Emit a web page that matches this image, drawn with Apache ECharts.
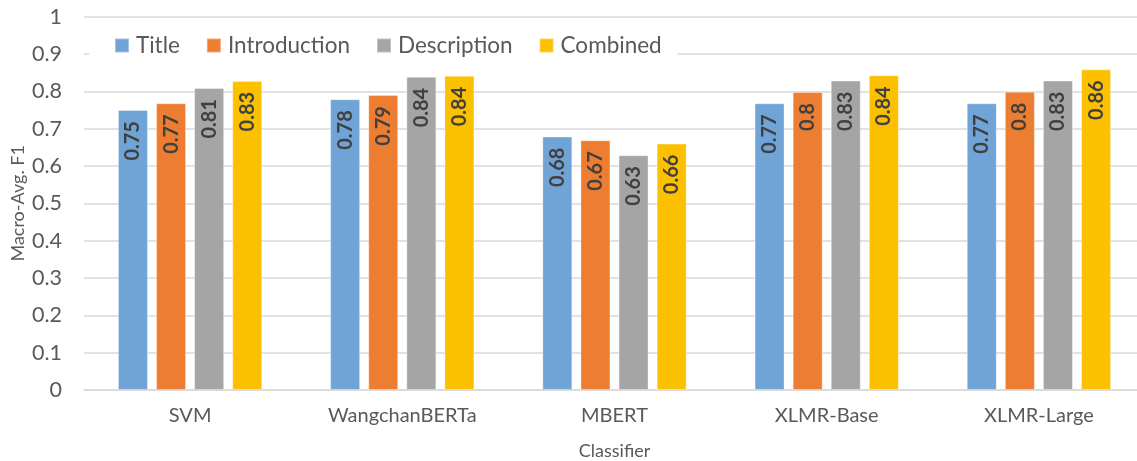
<!DOCTYPE html>
<html>
<head>
<meta charset="utf-8">
<script src="https://cdn.jsdelivr.net/npm/echarts@6/dist/echarts.min.js"></script>
<style>
  html, body { margin: 0; padding: 0; background: #fff; }
  #chart { width: 1137px; height: 461px; }
</style>
</head>
<body>
<div id="chart"></div>
<script>
const classifiers = ['SVM', 'WangchanBERTa', 'MBERT', 'XLMR-Base', 'XLMR-Large'];
const title = [0.750, 0.779, 0.679, 0.768, 0.768];
const introduction = [0.768, 0.790, 0.669, 0.798, 0.799];
const description = [0.809, 0.839, 0.629, 0.829, 0.829];
const combined = [0.828, 0.842, 0.660, 0.843, 0.859];
const yTicks = [0, 0.1, 0.2, 0.3, 0.4, 0.5, 0.6, 0.7, 0.8, 0.9, 1];

const FONT = 'Lato, "Open Sans", sans-serif';

const chart = echarts.init(document.getElementById('chart'));

function makeSeries(name, data, color) {
  return {
    name,
    type: 'bar',
    data,
    barWidth: 30,
    barGap: '27%',
    itemStyle: { color, borderColor: 'rgba(255,255,255,0.35)', borderWidth: 1 },
    label: {
      show: true,
      position: 'insideTop',
      rotate: 90,
      align: 'right',
      verticalAlign: 'middle',
      distance: 11,
      color: '#404040',
      fontWeight: 'bold',
      fontSize: 20,
      fontFamily: FONT,
      formatter: (p) => String(parseFloat(p.value.toFixed(2))),
    },
  };
}

chart.setOption({
  animation: false,
  textStyle: { fontFamily: FONT },
  grid: {
    left: 84,
    top: 16.7,
    width: 1061,
    height: 373.3,
    outerBoundsMode: 'none',
  },
  legend: {
    left: 89,
    top: 29,
    padding: [5, 16, 5, 25],
    backgroundColor: '#fff',
    itemWidth: 14,
    itemHeight: 14,
    itemGap: 26,
    icon: 'rect',
    textStyle: { fontSize: 22.5, color: '#595959', fontFamily: FONT, padding: [0, 0, 0, 2] },
    data: ['Title', 'Introduction', 'Description', 'Combined'],
  },
  xAxis: {
    type: 'category',
    data: classifiers,
    name: 'Classifier',
    nameLocation: 'middle',
    nameGap: 52,
    nameMoveOverlap: false,
    nameTextStyle: { fontSize: 18, color: '#595959' },
    axisLine: { lineStyle: { color: '#d9d9d9', width: 1.5 } },
    axisTick: { show: false },
    axisLabel: { fontSize: 20, color: '#595959', margin: 16 },
  },
  yAxis: {
    type: 'value',
    min: 0,
    max: 1,
    interval: 0.1,
    name: 'Macro-Avg. F1',
    nameLocation: 'middle',
    nameGap: 57,
    nameMoveOverlap: false,
    nameTextStyle: { fontSize: 18, color: '#595959' },
    axisLine: { show: false },
    axisTick: { show: false },
    splitLine: { lineStyle: { color: '#d9d9d9', width: 1.5 } },
    axisLabel: {
      fontSize: 21.5,
      color: '#595959',
      margin: 22,
      formatter: (v) => String(yTicks.find((t) => Math.abs(t - v) < 1e-9) ?? v),
    },
  },
  series: [
    makeSeries('Title', title, '#70a3d6'),
    makeSeries('Introduction', introduction, '#ed7d31'),
    makeSeries('Description', description, '#a5a5a5'),
    makeSeries('Combined', combined, '#fbc000'),
  ],
});
</script>
</body>
</html>
